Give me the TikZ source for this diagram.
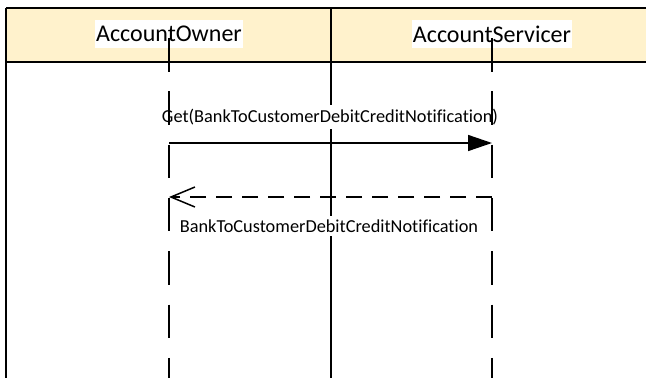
\documentclass[tikz,border=0pt]{standalone}
\usepackage{fontspec}
\setmainfont{Carlito}[Ligatures=NoCommon]
\usetikzlibrary{arrows.meta}
\definecolor{headerfill}{HTML}{FFF2CC}
\begin{document}
\begin{tikzpicture}[x=1pt,y=-1pt,
  frameline/.style={line width=1.6pt, black},
  lifeline/.style={line width=1.5pt, black, dash pattern=on 33.5pt off 19.8pt},
  headertext/.style={fill=white, inner xsep=1pt, inner ysep=6pt, font=\fontsize{24}{28}\selectfont},
  msglabel/.style={fill=white, inner xsep=2pt, inner ysep=4pt, font=\fontsize{18.3}{22}\selectfont},
  msgline/.style={line width=1.5pt, black},
  ]
\useasboundingbox (0,0) rectangle (646,378);
% header band
\fill[headerfill] (6,8) rectangle (646,62);
\coordinate (tl) at (6,8);
\coordinate (tr) at (646,8);
\coordinate (hl) at (6,62);
\coordinate (hr) at (646,62);
\coordinate (bl) at (6,378);
\coordinate (dt) at (331,8);
\coordinate (db) at (331,378);
\draw[frameline] (tl) -- (tr);
\draw[frameline] (hl) -- (hr);
\draw[frameline] (tl) -- (bl);
\draw[frameline] (dt) -- (db);
% header texts
\node[headertext] (owner) at (169,34) {AccountOwner};
\node[headertext] (servicer) at (492,34) {AccountServicer};
% message labels
\node[msglabel] (getlbl) at (330,117) {Get(BankToCustomerDebitCreditNotification)};
\node[msglabel] (retlbl) at (329,226) {BankToCustomerDebitCreditNotification};
% lifelines
\coordinate (ot) at (169,38);
\coordinate (ob) at (169,378);
\coordinate (st) at (492,38);
\coordinate (sb) at (492,378);
\draw[lifeline] (ot) -- (ob);
\draw[lifeline] (st) -- (sb);
% messages
\coordinate (m1a) at (169,143);
\coordinate (m1b) at (492,143);
\coordinate (m2a) at (492,197);
\coordinate (m2b) at (169,197);
\draw[msgline, -{Triangle[length=24pt,width=16pt]}] (m1a) -- (m1b);
\draw[msgline, dash pattern=on 16pt off 10pt, -{Straight Barb[length=24pt,width=20pt]}] (m2a) -- (m2b);
\end{tikzpicture}
\end{document}
